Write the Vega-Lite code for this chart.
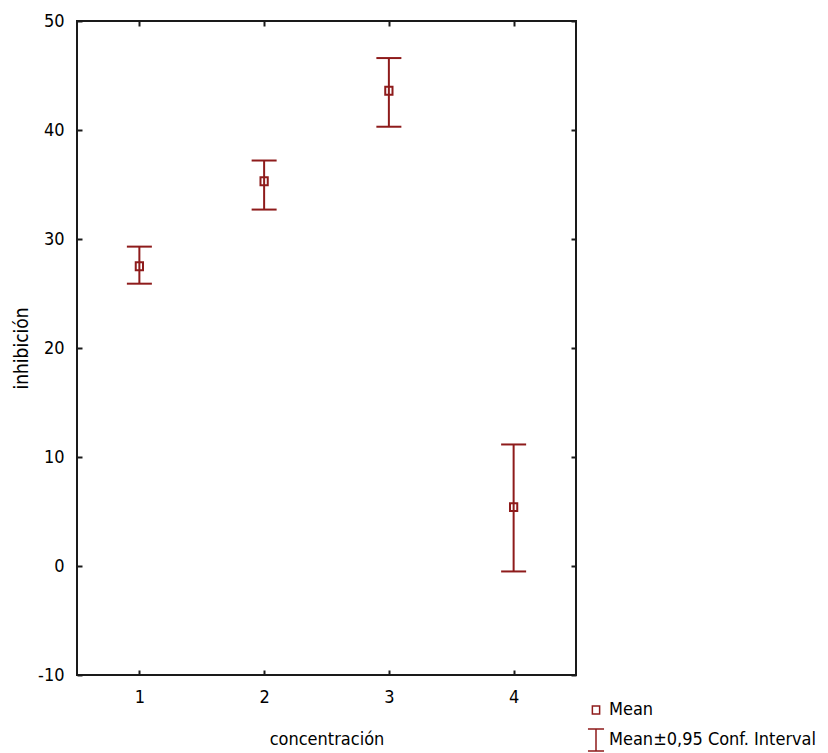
{
  "$schema": "https://vega.github.io/schema/vega-lite/v6.json",
  "width": 499,
  "height": 654,
  "autosize": {"type": "none"},
  "padding": {"left": 77, "top": 21, "right": 252, "bottom": 78},
  "background": "white",
  "config": {
    "view": {"stroke": "#1a1a1a", "strokeWidth": 2},
    "font": "DejaVu Sans Condensed, DejaVu Sans, sans-serif",
    "axis": {
      "grid": false,
      "domain": false,
      "tickSize": -5,
      "tickWidth": 2,
      "tickColor": "#1a1a1a",
      "labelFontSize": 18,
      "labelColor": "black",
      "titleFontSize": 19,
      "titleFontWeight": "normal",
      "titleColor": "black",
      "labelExpr": "toString(datum.value)"
    }
  },
  "data": {
    "values": [
      {"concentracion": 1, "mean": 27.5, "lower": 25.9, "upper": 29.3},
      {"concentracion": 2, "mean": 35.3, "lower": 32.7, "upper": 37.2},
      {"concentracion": 3, "mean": 43.6, "lower": 40.3, "upper": 46.6},
      {"concentracion": 4, "mean": 5.4, "lower": -0.5, "upper": 11.15}
    ]
  },
  "layer": [
    {
      "mark": {"type": "errorbar", "color": "#8e1b1b", "ticks": {"size": 25, "thickness": 2, "opacity": 1, "color": "#8e1b1b"}, "rule": {"strokeWidth": 2, "opacity": 1}},
      "encoding": {
        "x": {
          "field": "concentracion", "type": "quantitative",
          "scale": {"domain": [0.5, 4.5], "nice": false, "zero": false},
          "axis": {"orient": "bottom", "values": [1, 2, 3, 4], "title": "concentración", "titleFontSize": 18, "labelPadding": 18, "titlePadding": 24}
        },
        "y": {
          "field": "lower", "type": "quantitative",
          "scale": {"domain": [-10, 50], "nice": false, "zero": false},
          "axis": {"orient": "left", "values": [-10, 0, 10, 20, 30, 40, 50], "title": "inhibición", "labelPadding": 18, "titleX": -56, "titleY": 327, "titleBaseline": "middle", "titleAngle": -90}
        },
        "y2": {"field": "upper"}
      }
    },
    {
      "mark": {"type": "point", "size": 484, "filled": false, "stroke": "#8e1b1b", "strokeWidth": 2, "opacity": 1},
      "encoding": {
        "x": {
          "field": "concentracion", "type": "quantitative",
          "scale": {"domain": [0.5, 4.5], "nice": false, "zero": false},
          "axis": {"orient": "top", "values": [1, 2, 3, 4], "labels": false, "title": null}
        },
        "y": {
          "field": "mean", "type": "quantitative",
          "scale": {"domain": [-10, 50], "nice": false, "zero": false},
          "axis": {"orient": "right", "values": [-10, 0, 10, 20, 30, 40, 50], "labels": false, "title": null}
        },
        "shape": {
          "datum": "Mean",
          "type": "nominal",
          "scale": {
            "domain": ["Mean", "Mean±0,95 Conf. Interval"],
            "range": ["M-0.33,-0.36H0.33V0.36H-0.33Z", "M-0.73,-1H0.73M0,-1V1M-0.73,1H0.73"]
          },
          "legend": {
            "title": null,
            "orient": "none",
            "legendX": 507,
            "legendY": 677,
            "symbolSize": 484,
            "rowPadding": 7,
            "labelOffset": 1,
            "labelFontSize": 18,
            "labelColor": "black",
            "labelLimit": 400
          }
        }
      }
    }
  ],
  "resolve": {"axis": {"x": "independent", "y": "independent"}}
}
